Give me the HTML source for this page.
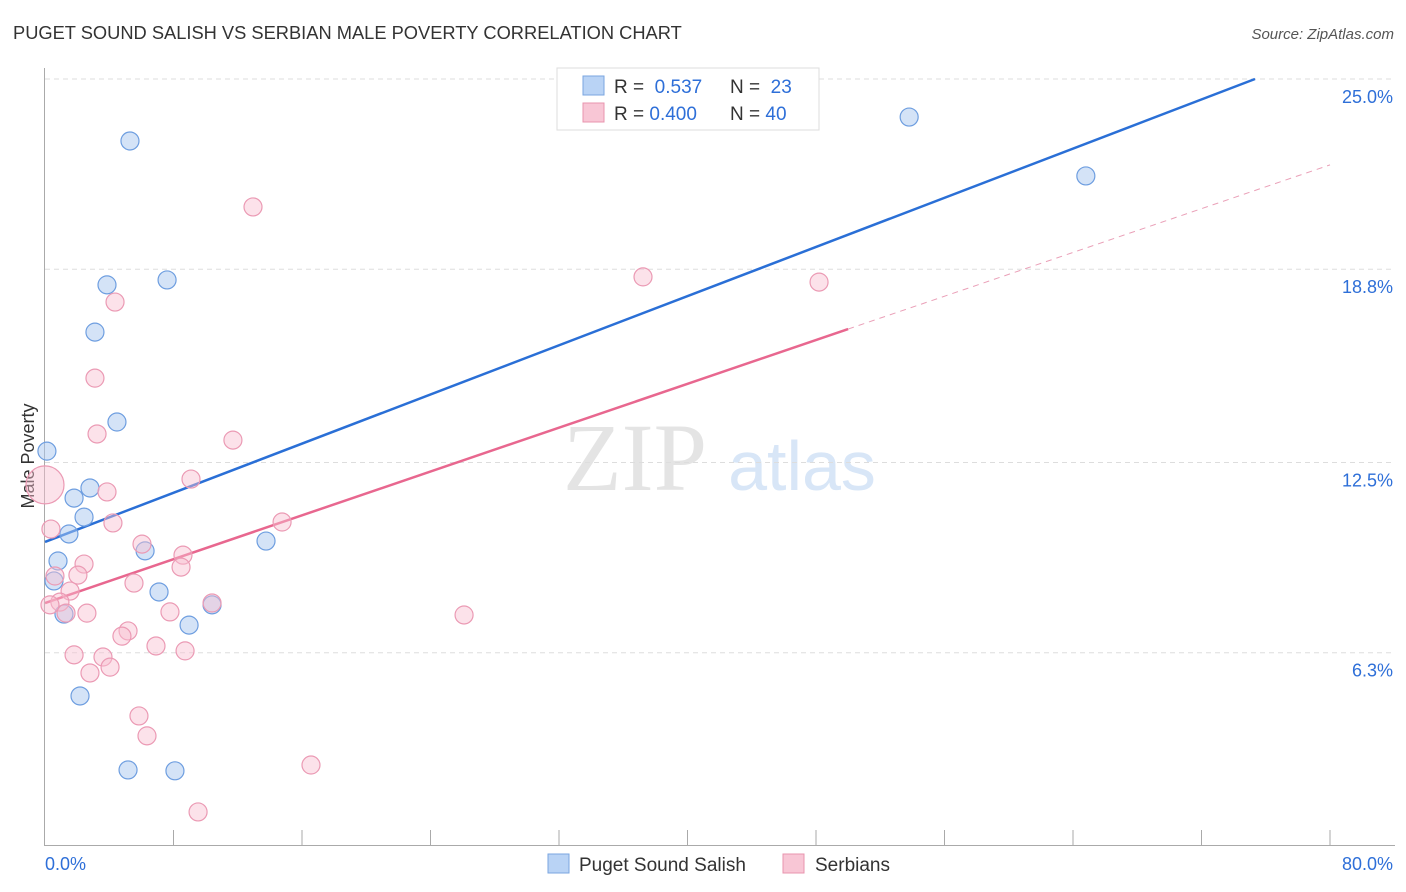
<!DOCTYPE html>
<html><head><meta charset="utf-8"><style>
body{margin:0;background:#fff;font-family:"Liberation Sans",sans-serif;}
svg{display:block}
</style></head><body>
<svg id="c" width="1406" height="892">
<text x="13" y="39" font-size="18.3" fill="#333">PUGET SOUND SALISH VS SERBIAN MALE POVERTY CORRELATION CHART</text>
<text x="1394" y="39" font-size="15" fill="#555" font-style="italic" text-anchor="end">Source: ZipAtlas.com</text>
<text transform="translate(34,456) rotate(-90)" font-size="18" fill="#333" text-anchor="middle">Male Poverty</text>
<g><text x="635" y="490" font-size="96" fill="#e4e4e4" font-family="Liberation Serif,serif" text-anchor="middle">ZIP</text><text x="802" y="490" font-size="70" fill="#d8e6f7" text-anchor="middle">atlas</text></g>
<g id="grid"></g><g id="axes"></g><g id="lines"></g><g id="pts"></g>
<g>
<rect x="557" y="68" width="262" height="62" fill="#fff" stroke="#ddd"/>
<rect x="583" y="76" width="21" height="19" fill="#b9d3f5" stroke="#7aa6e0"/>
<rect x="583" y="103" width="21" height="19" fill="#f8c6d5" stroke="#e894ae"/>
<text x="614" y="93" font-size="19" fill="#333">R = <tspan fill="#2e6fd8">&#160;0.537</tspan><tspan x="730">N = </tspan><tspan fill="#2e6fd8">&#160;23</tspan></text>
<text x="614" y="120" font-size="19" fill="#333">R = <tspan fill="#2e6fd8">0.400</tspan><tspan x="730">N = </tspan><tspan fill="#2e6fd8">40</tspan></text>
</g>
<g>
<rect x="548" y="854" width="21" height="19" fill="#b9d3f5" stroke="#7aa6e0"/>
<text x="579" y="871" font-size="19" fill="#333">Puget Sound Salish</text>
<rect x="783" y="854" width="21" height="19" fill="#f8c6d5" stroke="#e894ae"/>
<text x="815" y="871" font-size="19" fill="#333">Serbians</text>
</g>
</svg>
<script>
const blueX=[5.29,53.8,64.8,3.86,7.60,3.11,4.48,0.12,2.80,1.81,2.43,1.49,13.76,0.81,6.23,0.56,7.10,10.40,1.18,8.97,2.18,5.17,8.09];
const blueY=[22.98,23.76,21.84,18.29,18.45,16.75,13.82,12.87,11.67,11.34,10.72,10.17,9.94,9.29,9.62,8.64,8.28,7.86,7.56,7.20,4.89,2.48,2.45];
const pinkX=[12.95,37.23,48.19,4.36,3.11,3.24,11.70,9.09,3.86,0,4.23,14.76,0.37,6.04,8.59,2.43,8.47,0.62,2.05,5.54,1.56,0.93,10.40,1.31,2.61,7.78,26.09,5.17,4.79,6.91,1.81,3.61,8.72,4.05,2.80,5.85,6.35,16.56,9.53,0.31];
const pinkY=[20.83,18.55,18.38,17.73,15.25,13.43,13.23,11.96,11.54,11.77,10.53,10.56,10.33,9.84,9.48,9.19,9.09,8.80,8.83,8.57,8.31,7.95,7.92,7.59,7.59,7.63,7.53,7.01,6.84,6.52,6.23,6.16,6.36,5.83,5.64,4.24,3.59,2.64,1.11,7.86];
const pinkBig=[0,0,0,0,0,0,0,0,0,1,0,0,0,0,0,0,0,0,0,0,0,0,0,0,0,0,0,0,0,0,0,0,0,0,0,0,0,0,0,0];
const yTicks=[25.0,18.8,12.5,6.3];
const yTickLabels=["25.0%","18.8%","12.5%","6.3%"];
const xLabels=["0.0%","80.0%"];
const blueFit=[[0,9.91],[75.33,25.0]];
const pinkFit=[[0,7.92],[50.0,16.85]];
const pinkDash=[[50.0,16.85],[80,22.2]];
const NS="http://www.w3.org/2000/svg";
const sx=v=>45+v/80*1285;
const sy=v=>79+(25-v)*30.68;
function mk(p,t,a){const e=document.createElementNS(NS,t);for(const k in a)e.setAttribute(k,a[k]);p.appendChild(e);return e;}
const grid=document.getElementById('grid'),axes=document.getElementById('axes'),lines=document.getElementById('lines'),pts=document.getElementById('pts');
yTicks.forEach((t,i)=>{
 const l=mk(grid,'line',{x1:45,x2:1395,y1:sy(t),y2:sy(t),stroke:'#ddd','stroke-dasharray':'5,4'});
 
 
 const tx=mk(grid,'text',{x:1393,y:sy(t)+24,'font-size':18,fill:'#2e6fd8','text-anchor':'end'});
 tx.textContent=yTickLabels[i];
 
 
});
const ya=mk(axes,'line',{x1:44.5,x2:44.5,y1:68,y2:845,stroke:'#aaa'});


const xa=mk(axes,'line',{x1:44,x2:1395,y1:845.5,y2:845.5,stroke:'#aaa'});


for(let i=1;i<=10;i++){
 const tk=mk(axes,'line',{x1:sx(i*8),x2:sx(i*8),y1:830,y2:845,stroke:'#aaa'});
 
 
}
const xl0=mk(axes,'text',{x:45,y:870,'font-size':18,fill:'#2e6fd8'});xl0.textContent=xLabels[0];


const xl1=mk(axes,'text',{x:1393,y:870,'font-size':18,fill:'#2e6fd8','text-anchor':'end'});xl1.textContent=xLabels[1];


blueX.forEach((x,i)=>{
 const c=mk(pts,'circle',{cx:sx(x),cy:sy(blueY[i]),r:9,fill:'rgba(170,200,240,0.5)',stroke:'#6e9ee0','stroke-width':1.2});
 
 
});
pinkX.forEach((x,i)=>{
 const c=mk(pts,'circle',{cx:sx(x),cy:sy(pinkY[i]),r:pinkBig[i]?19:9,fill:'rgba(248,190,208,0.45)',stroke:'#eb9ab4','stroke-width':1.2});
 
 
});
const bl=mk(lines,'line',{x1:sx(blueFit[0][0]),y1:sy(blueFit[0][1]),x2:sx(blueFit[1][0]),y2:sy(blueFit[1][1]),stroke:'#2a6fd6','stroke-width':2.5});


const pl=mk(lines,'line',{x1:sx(pinkFit[0][0]),y1:sy(pinkFit[0][1]),x2:sx(pinkFit[1][0]),y2:sy(pinkFit[1][1]),stroke:'#e8678f','stroke-width':2.5});


const pd=mk(lines,'line',{x1:sx(pinkDash[0][0]),y1:sy(pinkDash[0][1]),x2:sx(pinkDash[1][0]),y2:sy(pinkDash[1][1]),stroke:'#eaa0b8','stroke-width':1,'stroke-dasharray':'6,5'});


</script>
</body></html>
